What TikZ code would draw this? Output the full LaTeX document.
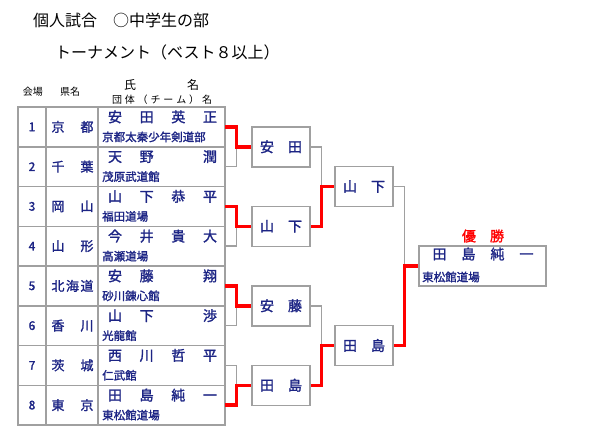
\documentclass[tikz,border=0pt]{standalone}
\usepackage{fontspec}
\setmainfont{Noto Sans CJK JP}
\newfontfamily\heavyjp[FakeBold=1.6]{Noto Sans CJK JP}
\definecolor{linegray}{RGB}{160,160,160}
\definecolor{winred}{RGB}{255,0,0}
\definecolor{navy}{RGB}{28,36,132}
\tikzset{
  gridline/.style={draw=linegray, line width=1.5pt},
  loser/.style={draw=linegray, line width=1.5pt},
  winner/.style={draw=winred, line width=3.5pt},
  roundbox/.style={draw=linegray, line width=1.5pt, minimum width=58pt, minimum height=40pt,
    inner sep=0pt, text=navy, font=\heavyjp\fontsize{14}{14}\selectfont},
  headtext/.style={inner sep=0pt, font=\fontsize{10}{10}\selectfont},
}
\begin{document}
\begin{tikzpicture}[x=1pt, y=-1pt]
\useasboundingbox (0,0) rectangle (600,440);
% titles
\node[anchor=west, inner sep=0pt, font=\fontsize{16}{16}\selectfont] (title) at (33,20) {個人試合　○中学生の部};
\node[anchor=west, inner sep=0pt, font=\fontsize{16}{16}\selectfont] (subtitle) at (55,52) {トーナメント（ベスト８以上）};
% column heads
\node[headtext] (hdvenue) at (33,92) {会場};
\node[headtext] (hdpref) at (70,92) {県名};
\node[headtext, font=\fontsize{12}{12}\selectfont] (hdfamily) at (130,85) {氏};
\node[headtext, font=\fontsize{12}{12}\selectfont] (hdgiven) at (193,85) {名};
\node[headtext] (hdteam) at (162,100) {\makebox[100pt][s]{団\hfill 体\hfill （\hfill チ\hfill ー\hfill ム\hfill ）\hfill 名}};
% table
\draw[gridline] (18,107) rectangle (225,425);
\foreach \k in {1,...,7}
  \draw[gridline] (18,{107+39.75*\k}) -- (225,{107+39.75*\k});
\draw[gridline] (46,107) -- (46,425);
\draw[gridline] (98,107) -- (98,425);
\foreach \i/\pref/\nm/\club in {
  1/{京\hfill 都}/{安\hfill 田\hfill 英\hfill 正}/京都太秦少年剣道部,
  2/{千\hfill 葉}/{天\hfill 野\hfill \phantom{野}\hfill 潤}/茂原武道館,
  3/{岡\hfill 山}/{山\hfill 下\hfill 恭\hfill 平}/福田道場,
  4/{山\hfill 形}/{今\hfill 井\hfill 貴\hfill 大}/高瀬道場,
  5/{北\hfill 海\hfill 道}/{安\hfill 藤\hfill \phantom{藤}\hfill 翔}/砂川錬心館,
  6/{香\hfill 川}/{山\hfill 下\hfill \phantom{下}\hfill 渉}/光龍館,
  7/{茨\hfill 城}/{西\hfill 川\hfill 哲\hfill 平}/仁武館,
  8/{東\hfill 京}/{田\hfill 島\hfill 純\hfill 一}/東松館道場}{
  \pgfmathsetmacro\mid{107+39.75*(\i-0.5)}
  \node[inner sep=0pt, text=navy, font=\heavyjp\fontsize{12}{12}\selectfont] (num\i) at (32,\mid) {\i};
  \node[inner sep=0pt, text=navy, font=\heavyjp\fontsize{13}{13}\selectfont] (pref\i) at (72.5,\mid) {\makebox[42pt][s]{\pref}};
  \node[inner sep=0pt, text=navy, font=\heavyjp\fontsize{14}{14}\selectfont] (name\i) at (162.5,\mid-10) {\makebox[109pt][s]{\nm}};
  \node[anchor=west, inner sep=0pt, text=navy, font=\heavyjp\fontsize{11.5}{11.5}\selectfont] (club\i) at (102,\mid+10) {\club};
  \coordinate (row\i) at (225,\mid);
}
% first round
\node[roundbox] (r1a) at (281,146.75) {\makebox[42pt][s]{安\hfill 田}};
\node[roundbox] (r1b) at (281,226.25) {\makebox[42pt][s]{山\hfill 下}};
\node[roundbox] (r1c) at (281,305.75) {\makebox[42pt][s]{安\hfill 藤}};
\node[roundbox] (r1d) at (281,385.25) {\makebox[42pt][s]{田\hfill 島}};
% semi final
\node[roundbox] (sfa) at (364,186.5) {\makebox[42pt][s]{山\hfill 下}};
\node[roundbox] (sfb) at (364,345.5) {\makebox[42pt][s]{田\hfill 島}};
% final
\node[roundbox, minimum width=127pt] (champ) at (482.5,266) {};
\node[inner sep=0pt, text=navy, font=\heavyjp\fontsize{14}{14}\selectfont] (champname) at (483,254) {\makebox[101pt][s]{田\hfill 島\hfill 純\hfill 一}};
\node[anchor=west, inner sep=0pt, text=navy, font=\heavyjp\fontsize{11.5}{11.5}\selectfont] (champclub) at (422,277) {東松館道場};
\node[inner sep=0pt, text=winred, font=\heavyjp\fontsize{14}{14}\selectfont] (victory) at (483,236) {\makebox[42pt][s]{優\hfill 勝}};
% brackets
\draw[loser] (row2) -| ([xshift=-15pt]r1a.west);
\draw[winner] (row1) -| ([xshift=-15pt]r1a.west) -- (r1a.west);
\draw[loser] (row4) -| ([xshift=-15pt]r1b.west);
\draw[winner] (row3) -| ([xshift=-15pt]r1b.west) -- (r1b.west);
\draw[loser] (row6) -| ([xshift=-15pt]r1c.west);
\draw[winner] (row5) -| ([xshift=-15pt]r1c.west) -- (r1c.west);
\draw[loser] (row7) -| ([xshift=-15pt]r1d.west);
\draw[winner] (row8) -| ([xshift=-15pt]r1d.west) -- (r1d.west);
\draw[loser] (r1a.east) -| ([xshift=-13pt]sfa.west);
\draw[winner] (r1b.east) -| ([xshift=-13pt]sfa.west) -- (sfa.west);
\draw[loser] (r1c.east) -| ([xshift=-13pt]sfb.west);
\draw[winner] (r1d.east) -| ([xshift=-13pt]sfb.west) -- (sfb.west);
\draw[loser] (sfa.east) -| ([xshift=-14pt]champ.west);
\draw[winner] (sfb.east) -| ([xshift=-14pt]champ.west) -- (champ.west);
\end{tikzpicture}
\end{document}
